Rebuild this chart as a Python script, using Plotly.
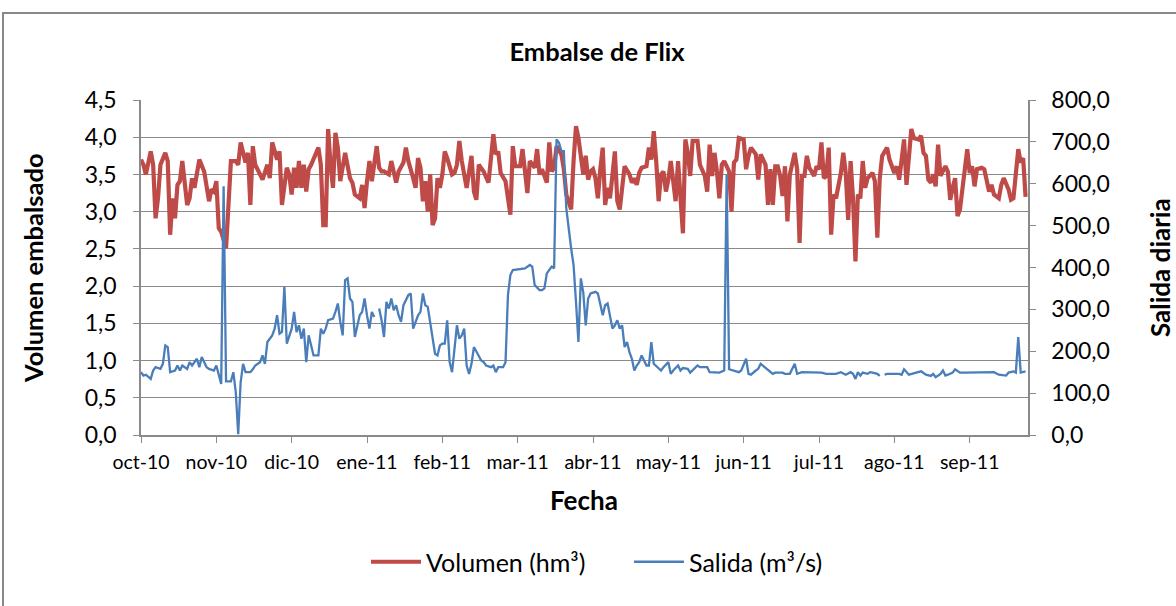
import plotly.graph_objects as go
import pandas as pd

start = pd.Timestamp("2010-10-01")

vol_days = [0, 1, 2, 3, 4, 5, 6, 7, 8, 10, 11, 12, 13, 14, 15, 16, 17, 19, 20, 21, 22, 24, 25, 26, 28, 29, 30, 31, 32, 33, 35, 37, 39, 40, 41, 43, 44, 45, 46, 47, 49, 50, 52, 53, 54, 56, 57, 58,
            60, 61, 62, 63, 64, 65, 66, 67, 68, 69, 70, 71, 73, 74, 75, 76, 77, 78, 79, 80, 81, 82, 83, 84, 86, 87, 88, 90, 91, 92, 93, 94, 95, 97, 98, 99, 100, 102, 103, 105, 106, 108, 109, 110, 112, 113, 114, 115, 116, 117, 118, 119,
            120, 121, 122, 123, 124, 125, 126, 128, 129, 130, 131, 132, 134, 135, 136, 137, 138, 139, 140, 141, 143, 144, 145, 146, 147, 148, 149, 150, 152, 153, 154, 156, 157, 158, 159, 160, 162, 163, 164, 165, 167, 168, 169, 170, 171, 173, 174, 175, 177, 178, 179, 180,
            182, 183, 184, 185, 186, 187, 188, 189, 190, 191, 192, 193, 194, 195, 196, 197, 198, 199, 201, 202, 203, 204, 205, 206, 208, 209, 210, 211, 212, 213, 214, 215, 216, 217, 218, 220, 221, 222, 223, 224, 225, 226, 227, 229, 230, 232, 233, 234, 235, 236, 237, 238, 239, 240, 242, 243,
            244, 245, 246, 248, 249, 250, 251, 253, 254, 255, 257, 258, 259, 260, 261, 262, 263, 264, 265, 266, 267, 269, 270, 271, 272, 273, 274, 275, 277, 278, 279, 280, 281, 282, 283, 284, 285, 286, 288, 289, 290, 291, 292, 293, 294, 295, 296, 297, 298, 299, 301, 302, 303, 304,
            305, 307, 308, 310, 311, 312, 313, 314, 315, 316, 317, 318, 320, 321, 322, 323, 324, 325, 326, 327, 328, 329, 331, 332, 333, 334, 335, 336, 337, 338, 340, 341, 342, 343, 344, 346, 347, 349, 350, 351, 353, 354, 355, 357, 358, 359, 361, 362, 363, 364]
vol_values = [3.70, 3.63, 3.50, 3.66, 3.81, 3.63, 2.91, 3.18, 3.63, 3.79, 3.68, 2.69, 3.18, 2.91, 3.36, 3.41, 3.68, 3.09, 3.18, 3.45, 3.32, 3.70, 3.63, 3.54, 3.14, 3.30, 3.27, 3.41, 2.78, 2.73, 2.51, 3.68, 3.68, 3.63, 3.93, 3.66, 3.79, 3.09, 3.88, 3.63, 3.50, 3.43, 3.63, 3.45, 3.93, 3.70, 3.81, 3.09,
              3.59, 3.50, 3.23, 3.59, 3.32, 3.68, 3.32, 3.63, 3.27, 3.57, 3.63, 3.70, 3.86, 3.63, 2.82, 2.82, 4.11, 3.63, 3.32, 4.06, 3.86, 3.41, 3.59, 3.79, 3.45, 3.39, 3.23, 3.18, 3.36, 3.05, 3.41, 3.68, 3.41, 3.88, 3.59, 3.54, 3.54, 3.50, 3.68, 3.39, 3.54, 3.66, 3.86, 3.68, 3.45, 3.32, 3.72, 3.59, 3.14, 3.41, 3.00, 3.50,
              2.82, 2.91, 3.45, 3.32, 3.50, 3.81, 3.72, 3.50, 3.52, 3.63, 3.95, 3.68, 3.32, 3.50, 3.75, 3.27, 3.16, 3.63, 3.59, 3.54, 3.39, 3.75, 4.04, 3.77, 3.81, 3.52, 3.45, 3.41, 2.96, 3.88, 3.61, 3.61, 3.84, 3.54, 3.25, 3.68, 3.59, 3.84, 3.50, 3.57, 3.39, 3.93, 3.54, 3.59, 3.88, 3.77, 3.57, 3.23, 3.03, 3.68, 4.15, 3.99,
              3.50, 3.75, 3.43, 3.54, 3.57, 3.45, 3.18, 3.57, 3.86, 3.09, 3.32, 3.18, 3.50, 3.81, 3.14, 3.03, 3.32, 3.61, 3.50, 3.39, 3.45, 3.36, 3.52, 3.59, 3.61, 3.86, 3.70, 4.08, 3.68, 3.14, 3.50, 3.54, 3.27, 3.43, 3.68, 3.14, 3.68, 3.09, 2.71, 3.97, 3.79, 3.48, 3.95, 3.95, 3.63, 3.48, 3.27, 3.90, 3.48, 3.79, 3.54, 3.18, 3.63, 3.68, 3.54, 3.00,
              3.66, 3.70, 3.99, 3.97, 3.57, 3.75, 3.86, 3.77, 3.43, 3.77, 3.63, 3.09, 3.57, 3.09, 3.61, 3.61, 3.48, 3.21, 3.61, 2.87, 3.50, 3.79, 3.57, 2.58, 3.48, 3.48, 3.75, 3.59, 3.48, 3.61, 3.57, 3.93, 3.45, 3.48, 3.86, 2.69, 3.23, 3.18, 3.52, 3.79, 3.52, 2.89, 3.68, 3.18, 2.33, 3.23, 3.18, 3.68, 3.32, 3.45, 3.52, 3.41, 2.65, 3.45,
              3.75, 3.86, 3.70, 3.52, 3.61, 3.43, 3.75, 3.97, 3.36, 3.72, 4.11, 3.99, 3.97, 4.02, 3.79, 3.75, 3.43, 3.39, 3.50, 3.34, 3.90, 3.48, 3.61, 3.54, 3.16, 3.32, 3.45, 2.94, 3.03, 3.30, 3.84, 3.52, 3.61, 3.34, 3.57, 3.59, 3.57, 3.27, 3.36, 3.23, 3.18, 3.36, 3.45, 3.30, 3.16, 3.18, 3.84, 3.66, 3.72, 3.20]

sal_days = [0, 1, 2, 4, 5, 6, 8, 9, 10, 11, 12, 14, 15, 16, 17, 19, 20, 21, 23, 24, 25, 27, 28, 30, 31, 32, 33, 34, 35, 37, 38, 39, 40, 41, 42, 43, 45, 46, 47, 49, 50, 51, 52, 54, 55, 56, 57, 58, 59,
            60, 62, 63, 64, 65, 66, 67, 68, 69, 70, 71, 73, 74, 75, 76, 77, 79, 80, 81, 82, 83, 84, 85, 86, 87, 88, 90, 91, 92, 93, 94, 95, 96, 97, 98, 99, 100, 101, 102, 103, 104, 105, 106, 107, 108, 110, 111, 112, 114, 115, 116, 117, 118,
            120, 121, 122, 123, 124, 125, 126, 127, 128, 129, 130, 131, 132, 133, 134, 135, 136, 137, 139, 140, 141, 142, 144, 145, 146, 147, 149, 150, 151, 152, 153, 156, 158, 160, 161, 162, 164, 165, 166, 167, 169, 170, 171, 172, 173, 174, 175, 177, 178, 179, 180,
            181, 182, 183, 184, 185, 187, 188, 190, 191, 192, 194, 195, 196, 197, 198, 199, 200, 201, 202, 203, 204, 205, 206, 208, 209, 210, 211, 213, 214, 215, 217, 218, 219, 221, 222, 223, 225, 226, 227, 229, 230, 232, 233, 234, 236, 238, 240, 241, 242, 244,
            246, 247, 249, 250, 251, 253, 254, 255, 257, 258, 260, 261, 262, 264, 265, 267, 269, 270, 272, 274, 276, 278, 280, 282, 284, 286, 288, 290, 292, 293, 294, 295, 296, 297, 299, 300, 301, 303, 304, 305,
            306, 307, 310, 312, 313, 314, 316, 317, 319, 321, 323, 325, 326, 327, 329, 330, 331, 332, 334, 335, 337, 339, 341, 343, 345, 347, 349, 351, 353, 355, 356, 357, 359, 360, 361, 362, 363, 364]
sal_values = [150, 142, 144, 134, 154, 162, 158, 170, 214, 210, 150, 154, 166, 154, 166, 158, 174, 166, 182, 162, 186, 162, 158, 154, 166, 142, 122, 594, 128, 128, 150, 102, 2, 126, 170, 150, 150, 157, 166, 174, 190, 170, 222, 238, 254, 286, 242, 246, 354,
              218, 254, 294, 246, 262, 230, 254, 174, 238, 210, 190, 190, 254, 242, 254, 274, 278, 294, 314, 270, 238, 370, 374, 326, 318, 234, 286, 294, 326, 286, 254, 294, 282, None, 302, 274, 234, 318, 302, 326, 298, 310, 286, 270, 310, 334, 338, 254, 286, 294, 338, 310, 306,
              238, 194, 190, 214, 218, 218, 274, 174, 150, 214, 262, 230, 238, 254, 166, 146, 170, 210, 190, 178, 174, 166, 162, 166, 150, 162, 162, 174, 334, 382, 394, 397, 398, 406, 402, 358, 346, 346, 350, 386, 402, 398, 706, 698, 678, 678, 542, 446, 406, 318, 222,
              374, 340, 262, 326, 338, 342, 338, 286, 310, 314, 254, 262, 274, 254, 262, 210, 222, 198, 182, 154, 166, 174, 190, 166, 166, 222, 170, 158, 154, 162, 174, 146, 154, 166, 154, 160, 158, 149, 154, 166, 162, 162, 162, 150, 150, 149, 154, 622, 157, 154,
              150, 154, 182, 146, 144, 154, 158, 170, 160, 154, 146, 149, 149, 149, 146, 146, 170, 146, 150, 150, 150, 149, 149, 146, 146, 146, 150, 144, 150, 146, 134, 150, 142, 149, 146, 150, 149, 146, 141, None,
              144, 146, 146, 146, 144, 157, 144, 146, 149, 152, 144, 141, 146, 138, 146, 154, 142, 144, 149, 157, 149, 149, 149, 150, 149, 150, 150, 150, 144, 142, 142, 149, 152, 149, 234, 149, 150, 152]

tick_labels = ["oct-10", "nov-10", "dic-10", "ene-11", "feb-11", "mar-11",
               "abr-11", "may-11", "jun-11", "jul-11", "ago-11", "sep-11"]
tick_step_days = 31

vol_dates = start + pd.to_timedelta(vol_days, unit="D")
sal_dates = start + pd.to_timedelta(sal_days, unit="D")
tick_dates = [start + pd.Timedelta(days=tick_step_days * k) for k in range(len(tick_labels))]

FONT = "Lato, 'Open Sans', sans-serif"
GRID = "#8a8a8a"

fig = go.Figure()
fig.add_trace(go.Scatter(x=vol_dates, y=vol_values, name="Volumen (hm³)", mode="lines",
                         line=dict(color="#BE4B48", width=4.2), yaxis="y"))
fig.add_trace(go.Scatter(x=sal_dates, y=sal_values, name="Salida (m³/s)", mode="lines",
                         line=dict(color="#4A7EBB", width=2.3), yaxis="y2", connectgaps=False))

W, H = 1176, 606
L, R, T, B = 141, 148, 100, 171
pw, ph = W - L - R, H - T - B

def px(x):
    return (x - L) / pw

def py(y):
    return (H - B - y) / ph

fig.update_layout(
    width=W, height=H,
    margin=dict(l=L, r=R, t=T, b=B, pad=0),
    paper_bgcolor="white", plot_bgcolor="white",
    separators=",.",
    font=dict(family=FONT, color="black"),
    title=dict(text="<b>Embalse de Flix</b>", x=597 / W, y=1 - 52 / H, xref="container", yref="container",
               xanchor="center", yanchor="middle", font=dict(size=25.5, family=FONT)),
    xaxis=dict(type="date", range=[start, start + pd.Timedelta(days=365)],
               tickvals=tick_dates, ticktext=tick_labels, ticks="outside", ticklen=6, tickcolor=GRID,
               showline=True, linecolor=GRID, linewidth=1.5, showgrid=False, zeroline=False,
               tickfont=dict(size=19.5, family=FONT), ticklabelstandoff=3),
    yaxis=dict(range=[0, 4.5], dtick=0.5, tickformat=".1f", ticks="outside", ticklen=6, tickcolor=GRID,
               showline=True, linecolor=GRID, linewidth=1.5, showgrid=True, gridcolor=GRID, gridwidth=1.3,
               zeroline=False, tickfont=dict(size=23, family=FONT), ticklabelstandoff=12),
    yaxis2=dict(range=[0, 800], dtick=100, tickformat=".1f", overlaying="y", side="right", ticks="outside",
                ticklen=6, tickcolor=GRID, showline=True, linecolor=GRID, linewidth=1.5, showgrid=False,
                zeroline=False, tickfont=dict(size=23, family=FONT), ticklabelstandoff=11),
    legend=dict(orientation="h", x=px(366), y=py(562), xanchor="left", yanchor="middle",
                font=dict(size=25, family=FONT), itemwidth=50, entrywidth=198, entrywidthmode="pixels",
                bgcolor="rgba(0,0,0,0)"),
    showlegend=True,
)

fig.add_annotation(text="<b>Volumen embalsado</b>", x=px(33), y=py(268), xref="paper", yref="paper",
                   xanchor="center", yanchor="middle",
                   textangle=-90, showarrow=False, font=dict(size=25.5, family=FONT))
fig.add_annotation(text="<b>Salida diaria</b>", x=px(1160), y=py(268), xref="paper", yref="paper",
                   xanchor="center", yanchor="middle",
                   textangle=-90, showarrow=False, font=dict(size=26, family=FONT))
fig.add_annotation(text="<b>Fecha</b>", x=px(584), y=py(500), xref="paper", yref="paper",
                   xanchor="center", yanchor="middle",
                   showarrow=False, font=dict(size=26, family=FONT))

fig.add_shape(type="rect", xref="paper", yref="paper", x0=px(3), x1=px(1190), y0=py(620), y1=py(13),
              line=dict(color="#888888", width=2), fillcolor="rgba(0,0,0,0)", layer="below")

fig.write_html("out.html", config={"displayModeBar": False},
               post_script="document.body.style.margin='0';document.body.style.overflow='hidden';")
